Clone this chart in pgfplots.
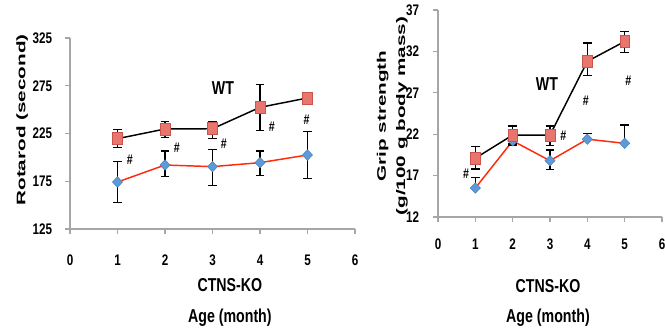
\documentclass[border=0pt]{standalone}
\usepackage{fontspec}
\setmainfont{Liberation Sans}[FakeStretch=0.76]
\newfontfamily\ylabfont{Liberation Sans}
\usepackage{pgfplots}
\pgfplotsset{compat=1.18}
\definecolor{wtfill}{HTML}{E8766E}
\definecolor{wtdraw}{HTML}{C9544D}
\definecolor{kofill}{HTML}{5E9BD6}
\definecolor{kodraw}{HTML}{4A83C0}
\definecolor{koline}{HTML}{FF2A0A}
\definecolor{axgray}{HTML}{A6A6A6}
\pgfplotsset{
 mystyle/.style={
  scale only axis, anchor=south west,
  axis x line=bottom, axis y line=left,
  axis line style={-, axgray, line width=1pt},
  tick style={axgray, line width=0.9pt},
  tick align=outside, major tick length=3.5pt,
  enlargelimits=false, clip=false,
  xmin=0, xmax=6, xtick={0,...,6},
  /pgf/number format/assume math mode=true,
  ticklabel style={font=\fontsize{11.5}{13}\selectfont\bfseries},
  xticklabel style={anchor=center},
  yticklabel style={anchor=east, inner sep=0pt},
 },
 wt/.style={black, line width=1.1pt, mark=square*, mark size=4.5pt,
   mark options={fill=wtfill, draw=wtdraw, line width=0.4pt, xscale=0.8},
   error bars/.cd, y dir=both, y explicit,
   error bar style={black, solid, line width=1pt},
   error mark options={rotate=90, black, line width=1pt, mark size=3.2pt}},
 ko/.style={koline, line width=1.1pt, mark=diamond*, mark size=3.9pt,
   mark options={fill=kofill, draw=kodraw, line width=0.4pt, xscale=1.3},
   error bars/.cd, y dir=both, y explicit,
   error bar style={black, solid, line width=1pt},
   error mark options={rotate=90, black, line width=1pt, mark size=3.2pt}},
}
\newcommand{\labfont}{\fontsize{14}{16}\selectfont\bfseries}
\newcommand{\hashfont}{\fontsize{10.5}{12}\selectfont\bfseries}
\begin{document}
\begin{tikzpicture}
\useasboundingbox (0,0) rectangle (498.75pt,249.75pt);
% Left chart
\begin{axis}[mystyle, at={(52.5pt,78pt)}, width=213.75pt, height=143.25pt,
  ymin=125, ymax=325, ytick={125,175,225,275,325},
  xticklabel style={yshift=-19.75pt}, yticklabel style={xshift=-9.75pt},
  ylabel={\scalebox{1}[0.6]{\ylabfont\fontsize{15.5}{18}\selectfont\bfseries Rotarod (second)}},
  ylabel style={at={(axis description cs:-0.168,0.571)}, anchor=center}]
\addplot[ko] coordinates {
 (1,174.2) += (0,21.8) -= (0,21.2)
 (2,192.0) += (0,14.7) -= (0,12.0)
 (3,190.3) += (0,17.7) -= (0,19.6)
 (4,194.5) += (0,12.2) -= (0,13.7)
 (5,202.5) += (0,24.5) -= (0,24.5)
};
\addplot[wt] coordinates {
 (1,219.6) += (0,9.5) -= (0,9.1)
 (2,229.7) += (0,8.0) -= (0,8.7)
 (3,230.0) += (0,7.7) -= (0,10.4)
 (4,252.4) += (0,23.6) -= (0,24.4)
 (5,262.2) += (0,3) -= (0,3)
};
\node[font=\labfont] at (axis cs:3.22,272.6) {WT};
\node[font=\hashfont] at (axis cs:1.26,197.3) {\#};
\node[font=\hashfont] at (axis cs:2.25,210.5) {\#};
\node[font=\hashfont] at (axis cs:3.24,214.7) {\#};
\node[font=\hashfont] at (axis cs:4.25,232.1) {\#};
\node[font=\hashfont] at (axis cs:4.98,239.1) {\#};
\node[font=\labfont] at (axis description cs:0.561,-0.293) {CTNS-KO};
\node[font=\labfont] at (axis description cs:0.561,-0.466) {Age (month)};
\end{axis}
% Right chart
\begin{axis}[mystyle, at={(328.5pt,87pt)}, width=168pt, height=155.25pt,
  ymin=12, ymax=37, ytick={12,17,22,27,32,37},
  xticklabel style={yshift=-17pt}, yticklabel style={xshift=-10.5pt},
  ylabel={\scalebox{1}[0.6]{\ylabfont\fontsize{15.5}{18}\selectfont\bfseries\begin{tabular}{@{}c@{}}Grip strength\\[6pt](g/100 g body mass)\end{tabular}}},
  ylabel style={at={(axis description cs:-0.203,0.488)}, anchor=center}]
\addplot[ko] coordinates {
 (1,15.5) += (0,1.3) -= (0,0)
 (2,21.2) += (0,0.5) -= (0,0.5)
 (3,18.8) += (0,1.3) -= (0,1.1)
 (4,21.4) += (0,0.7) -= (0,0)
 (5,20.9) += (0,2.2) -= (0,0)
};
\addplot[wt] coordinates {
 (1,19.1) += (0,1.4) -= (0,1.3)
 (2,21.9) += (0,1.1) -= (0,1.1)
 (3,21.9) += (0,1.1) -= (0,1.3)
 (4,30.8) += (0,2.2) -= (0,1.7)
 (5,33.2) += (0,1.2) -= (0,1.3)
};
\node[font=\labfont] at (axis cs:2.92,28.0) {WT};
\node[font=\hashfont] at (axis cs:0.75,17.2) {\#};
\node[font=\hashfont] at (axis cs:3.36,21.8) {\#};
\node[font=\hashfont] at (axis cs:3.96,26.1) {\#};
\node[font=\hashfont] at (axis cs:5.1,28.4) {\#};
\node[font=\labfont] at (axis description cs:0.491,-0.333) {CTNS-KO};
\node[font=\labfont] at (axis description cs:0.491,-0.488) {Age (month)};
\end{axis}
\end{tikzpicture}
\end{document}
